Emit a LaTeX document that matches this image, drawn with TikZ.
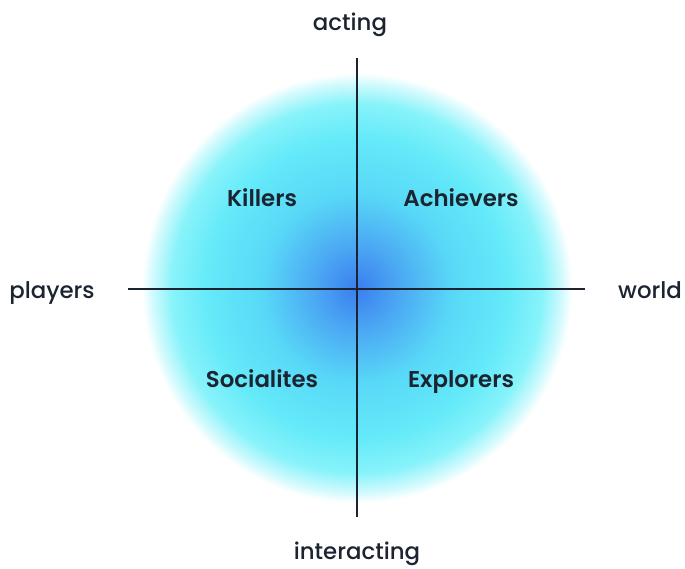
\documentclass[tikz,border=0pt]{standalone}
\usepackage{fontspec}
\setmainfont{Poppins}[UprightFont={* Medium}, BoldFont={* SemiBold}]
\usepackage{xcolor}
\definecolor{axisink}{HTML}{1B2430}
\definecolor{core}{HTML}{3A7EF0}
\definecolor{inner}{HTML}{4CAAF3}
\definecolor{middle}{HTML}{58D8F7}
\definecolor{outer}{HTML}{64EAF9}
\definecolor{rim}{HTML}{88F3FA}
\definecolor{haze}{HTML}{D2FAFD}
\pgfdeclareradialshading{bartle}{\pgfpoint{0bp}{0bp}}{%
  color(0bp)=(core); color(5.2bp)=(inner); color(11bp)=(middle);
  color(17.4bp)=(outer); color(21.5bp)=(rim); color(23.8bp)=(haze);
  color(25bp)=(white); color(50bp)=(white)}
\tikzset{
  axislabel/.style={font=\fontsize{13}{15}\selectfont, text=axisink, inner sep=0pt,
    text height=0.75em, text depth=0.22em},
  typelabel/.style={font=\bfseries\fontsize{13}{15}\selectfont, text=axisink, inner sep=0pt,
    text height=0.75em, text depth=0.22em},
}

\begin{document}
\begin{tikzpicture}[x=0.02cm, y=-0.02cm]
\useasboundingbox (0,0) rectangle (685,568);
%% disc
\coordinate (c) at (357,288);
\shade[shading=bartle] (c) circle (215);
%% axes
\coordinate (top) at (357,58);
\coordinate (bottom) at (357,517);
\coordinate (left) at (128,289);
\coordinate (right) at (585,289);
\draw[axisink, line width=1.6pt] (top) -- (bottom);
\draw[axisink, line width=1.6pt] (left) -- (right);
%% axis labels
\node[axislabel] (acting) at (350,26) {acting};
\node[axislabel] (interacting) at (357,555) {interacting};
\node[axislabel] (players) at (52,294) {players};
\node[axislabel] (world) at (650,294) {world};
%% player types
\node[typelabel] (killers) at (262,202) {Killers};
\node[typelabel] (achievers) at (461,202) {Achievers};
\node[typelabel] (socialites) at (262,383) {Socialites};
\node[typelabel] (explorers) at (461,383) {Explorers};
\end{tikzpicture}
\end{document}
